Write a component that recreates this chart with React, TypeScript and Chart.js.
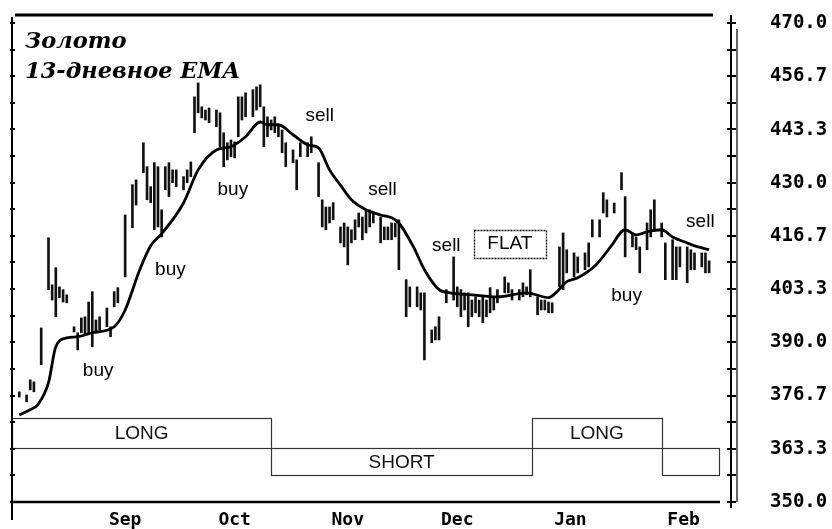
import { useEffect, useRef } from "react";
import { Chart, registerables } from "chart.js";
Chart.register(...registerables);

const TITLE_LINES = ["Золото", "13-дневное EMA"];
const MONTH_LABELS = ["Sep", "Oct", "Nov", "Dec", "Jan", "Feb"];
const MONTH_DAYS = [31, 61, 92, 122, 153, 184];
const Y_TICKS = [470.0, 456.7, 443.3, 430.0, 416.7, 403.3, 390.0, 376.7, 363.3, 350.0];

// daily bars (day number counted from Aug 1)
const BAR_DAYS = [2, 4, 5, 6, 8, 10, 11, 12, 13, 14, 15, 17, 18, 19, 20, 21, 22, 23, 24, 26, 27, 28, 29, 31, 33, 34, 36, 37, 38, 39, 40, 41, 42, 43, 44, 45, 47, 48, 49, 50, 51, 52, 53, 54, 56, 57, 58, 59, 60, 61, 62, 63, 64, 66, 67, 68, 69, 70, 71, 72, 73, 74, 75, 77, 78, 79, 81, 82, 84, 85, 86, 87, 88, 90, 91, 92, 93, 94, 95, 96, 97, 98, 99, 101, 102, 103, 104, 105, 106, 108, 109, 111, 112, 113, 115, 116, 117, 119, 121, 122, 123, 124, 125, 126, 127, 128, 129, 130, 131, 132, 133, 135, 136, 137, 139, 140, 141, 142, 144, 145, 146, 147, 148, 150, 151, 152, 154, 155, 157, 158, 159, 161, 162, 163, 165, 167, 168, 170, 171, 172, 174, 175, 176, 178, 179, 181, 182, 183, 185, 186, 187, 189, 190, 191];
const BAR_HIGH = [377.6, 376.8, 380.6, 380.1, 393.6, 416.2, 404.4, 408.7, 403.9, 403.2, 401.9, 393.9, 392.4, 396.1, 396.4, 400.1, 402.7, 395.6, 396.4, 398.6, 393.9, 402.7, 403.7, 421.9, 429.5, 430.7, 440.0, 434.0, 429.0, 435.0, 434.0, 423.2, 434.0, 435.0, 433.2, 433.2, 431.5, 433.2, 435.2, 451.5, 455.0, 449.0, 448.2, 448.7, 448.2, 447.5, 442.5, 440.0, 440.7, 440.2, 451.5, 451.5, 452.5, 453.3, 454.0, 454.5, 449.0, 446.5, 445.7, 446.5, 444.5, 443.2, 440.0, 438.2, 435.7, 440.0, 440.0, 441.5, 435.0, 425.7, 423.9, 423.9, 425.0, 418.9, 419.9, 418.9, 418.2, 420.7, 422.4, 421.4, 423.2, 423.2, 422.7, 421.4, 418.9, 418.9, 419.9, 419.9, 420.7, 405.7, 403.9, 403.9, 402.4, 402.4, 393.1, 393.9, 396.4, 403.2, 411.4, 403.9, 403.2, 402.4, 402.4, 400.6, 401.4, 400.6, 401.4, 400.6, 403.7, 401.4, 403.2, 406.4, 404.9, 403.2, 403.2, 404.9, 403.9, 408.2, 401.4, 400.6, 400.6, 400.1, 399.9, 413.9, 417.4, 413.2, 412.4, 411.4, 412.4, 414.9, 420.7, 420.7, 427.5, 425.7, 424.9, 432.5, 426.5, 417.4, 416.4, 413.9, 419.9, 423.2, 425.7, 419.9, 414.9, 415.7, 413.9, 413.9, 413.9, 413.2, 412.4, 412.4, 412.4, 410.4];
const BAR_LOW = [376.3, 375.1, 378.1, 377.6, 384.4, 403.2, 400.6, 396.4, 401.2, 400.1, 399.9, 392.6, 388.1, 392.4, 391.9, 392.4, 388.9, 392.4, 393.1, 393.9, 391.4, 398.9, 399.9, 406.4, 418.7, 424.4, 432.5, 425.7, 425.0, 418.2, 418.9, 416.4, 428.2, 426.5, 430.0, 429.0, 428.2, 430.0, 431.5, 442.5, 447.5, 446.2, 445.7, 445.0, 444.0, 439.0, 434.0, 435.7, 436.5, 436.2, 441.5, 445.7, 446.5, 446.5, 448.2, 449.0, 439.0, 441.5, 443.2, 442.5, 441.5, 437.5, 434.0, 435.0, 428.2, 436.5, 436.5, 437.5, 426.5, 418.9, 418.2, 419.9, 420.7, 414.9, 413.9, 409.4, 414.9, 415.7, 418.9, 415.7, 417.4, 418.9, 419.9, 414.9, 415.7, 415.7, 415.7, 416.4, 408.2, 396.4, 398.9, 398.9, 398.1, 385.6, 389.9, 390.6, 390.6, 399.9, 400.6, 398.9, 396.4, 398.1, 393.9, 396.4, 397.4, 396.4, 394.9, 396.4, 397.4, 398.1, 399.9, 402.4, 402.4, 400.6, 400.6, 401.4, 401.9, 401.4, 396.9, 398.1, 398.1, 397.4, 397.4, 403.9, 403.2, 407.4, 406.4, 407.4, 408.2, 408.9, 416.4, 416.4, 422.4, 421.4, 422.4, 428.2, 411.4, 413.9, 413.2, 407.4, 413.2, 416.4, 418.2, 416.4, 405.7, 405.7, 405.7, 408.9, 404.9, 408.2, 408.2, 408.9, 407.4, 407.4];

// 13-day EMA
const EMA_DAYS = [2, 5, 7, 10, 12, 15, 18, 22, 28, 31, 35, 38, 41, 47, 51, 56, 60, 64, 68, 70, 73, 77, 81, 84, 87, 90, 93, 97, 101, 104, 106, 110, 113, 117, 120, 126, 133, 141, 147, 149, 152, 155, 160, 164, 168, 171, 174, 178, 181, 185, 188, 191];
const EMA_VALUES = [371.8, 373.1, 374.3, 379.9, 388.9, 391.1, 391.4, 392.4, 393.9, 398.1, 408.2, 414.2, 417.2, 424.9, 433.2, 438.2, 439.0, 441.5, 445.2, 444.5, 444.5, 442.0, 439.5, 438.7, 433.2, 429.4, 425.7, 423.2, 421.9, 421.2, 419.9, 413.9, 408.2, 403.2, 402.4, 401.9, 401.4, 402.4, 401.2, 402.4, 405.2, 406.2, 409.4, 413.9, 418.2, 416.9, 417.7, 418.2, 416.4, 414.9, 413.9, 413.2];

// position periods
const POS_START = [0, 71, 142.5, 178];
const POS_END = [71, 142.5, 178, 193.6];
const POS_SIDE = ["LONG", "SHORT", "LONG", "SHORT"];
const POS_TEXT = ["LONG", "SHORT", "LONG", ""];
const POS_MID = 363.5;
const POS_LONG_TOP = 371;
const POS_SHORT_BOTTOM = 356.8;

// signal annotations
const SIGNAL_TEXT = ["buy", "buy", "buy", "sell", "sell", "sell", "FLAT", "buy", "sell"];
const SIGNAL_DAY = [23.6, 43.4, 60.5, 84.3, 101.5, 119.0, 136.4, 168.4, 188.6];
const SIGNAL_VALUE = [382.9, 408.2, 428.2, 446.7, 428.2, 414.2, 414.6, 401.7, 420.2];

const MONO = '"DejaVu Sans Mono", monospace';

const decor = {
  id: "decor",
  beforeDatasetsDraw(chart: any) {
    const { ctx, scales } = chart;
    const x = scales.x, y = scales.y;
    ctx.save();
    ctx.strokeStyle = "#333";
    ctx.lineWidth = 1.2;
    const yMid = y.getPixelForValue(POS_MID);
    const yTop = y.getPixelForValue(POS_LONG_TOP);
    const yBot = y.getPixelForValue(POS_SHORT_BOTTOM);
    ctx.font = '19px "Liberation Sans", Arial, sans-serif';
    ctx.fillStyle = "#111";
    ctx.textAlign = "center";
    ctx.textBaseline = "middle";
    for (let i = 0; i < POS_START.length; i++) {
      const x0 = x.getPixelForValue(POS_START[i]);
      const x1 = x.getPixelForValue(POS_END[i]);
      const a = POS_SIDE[i] === "LONG" ? yTop : yMid;
      const b = POS_SIDE[i] === "LONG" ? yMid : yBot;
      ctx.strokeRect(Math.round(x0) + 0.5, Math.round(a) + 0.5, Math.round(x1 - x0), Math.round(b - a));
      if (POS_TEXT[i]) ctx.fillText(POS_TEXT[i], (x0 + x1) / 2, (a + b) / 2 + 1);
    }
    ctx.beginPath();
    ctx.moveTo(x.getPixelForValue(POS_START[0]), Math.round(yMid) + 0.5);
    ctx.lineTo(x.getPixelForValue(POS_END[POS_END.length - 1]), Math.round(yMid) + 0.5);
    ctx.stroke();
    ctx.restore();
  },
  afterDatasetsDraw(chart: any) {
    const { ctx, chartArea, scales } = chart;
    const { left, right, top, bottom } = chartArea;
    const x = scales.x, y = scales.y;
    ctx.save();
    ctx.strokeStyle = "#000";
    // top border
    ctx.lineWidth = 3;
    ctx.beginPath(); ctx.moveTo(left + 3, top); ctx.lineTo(right - 18, top); ctx.stroke();
    // bottom border
    ctx.lineWidth = 2.5;
    ctx.beginPath(); ctx.moveTo(left - 2, bottom); ctx.lineTo(right - 11, bottom); ctx.stroke();
    // left axis
    ctx.lineWidth = 2;
    ctx.beginPath(); ctx.moveTo(left, top + 2); ctx.lineTo(left, bottom + 18); ctx.stroke();
    // right axis double line
    ctx.beginPath(); ctx.moveTo(right, top); ctx.lineTo(right, bottom + 6); ctx.stroke();
    ctx.lineWidth = 1.2;
    ctx.beginPath(); ctx.moveTo(right + 6, top + 14); ctx.lineTo(right + 6, bottom); ctx.stroke();
    // tick marks every half label step
    const hi = Y_TICKS[0], lo = Y_TICKS[Y_TICKS.length - 1];
    const steps = (Y_TICKS.length - 1) * 2;
    ctx.lineWidth = 2;
    for (let k = 0; k <= steps; k++) {
      const py = Math.round(y.getPixelForValue(hi - (k * (hi - lo)) / steps));
      ctx.beginPath(); ctx.moveTo(right - 4, py); ctx.lineTo(right + 5, py); ctx.stroke();
      ctx.beginPath(); ctx.moveTo(left - 2, py); ctx.lineTo(left + 3, py); ctx.stroke();
    }
    // title
    ctx.fillStyle = "#000";
    ctx.textAlign = "left";
    ctx.textBaseline = "alphabetic";
    ctx.font = 'italic bold 22.5px "DejaVu Serif", serif';
    ctx.fillText(TITLE_LINES[0], 25, 48);
    ctx.fillText(TITLE_LINES[1], 25, 78);
    // signals
    ctx.font = '19px "Liberation Sans", Arial, sans-serif';
    ctx.textAlign = "center";
    ctx.textBaseline = "middle";
    for (let i = 0; i < SIGNAL_TEXT.length; i++) {
      const px = x.getPixelForValue(SIGNAL_DAY[i]);
      const py = y.getPixelForValue(SIGNAL_VALUE[i]);
      if (SIGNAL_TEXT[i] === "FLAT") {
        ctx.fillStyle = "#fff";
        ctx.fillRect(px - 36, py - 14, 72, 28);
        ctx.fillStyle = "#000";
        ctx.lineWidth = 1.3;
        ctx.setLineDash([2, 1]);
        ctx.strokeRect(Math.round(px - 36) + 0.5, Math.round(py - 14) + 0.5, 72, 28);
        ctx.setLineDash([]);
      }
      ctx.fillStyle = "#000";
      ctx.fillText(SIGNAL_TEXT[i], px, py);
    }
    ctx.restore();
  },
};

export default function App() {
  const ref = useRef<HTMLCanvasElement>(null);
  useEffect(() => {
    document.body.style.margin = "0";
    const chart = new Chart(ref.current as HTMLCanvasElement, {
      type: "bar",
      data: {
        datasets: [
          {
            type: "line",
            label: "13-дневное EMA",
            data: EMA_DAYS.map((d, i) => ({ x: d, y: EMA_VALUES[i] })),
            borderColor: "#000",
            borderWidth: 2.8,
            pointRadius: 0,
            cubicInterpolationMode: "monotone",
            order: 0,
          } as any,
          {
            type: "bar",
            label: "Золото",
            data: BAR_DAYS.map((d, i) => ({ x: d, y: [BAR_LOW[i], BAR_HIGH[i]] })),
            backgroundColor: "#111",
            barThickness: 2,
            order: 1,
          } as any,
        ],
      },
      options: {
        animation: false,
        responsive: false,
        layout: { padding: { left: 12, top: 15, right: 0, bottom: 0 } },
        plugins: { legend: { display: false }, tooltip: { enabled: false } },
        scales: {
          x: {
            type: "linear",
            min: 0,
            max: 197,
            offset: false,
            grid: { display: false, drawTicks: true, tickLength: 6 },
            border: { display: false },
            afterBuildTicks: (s: any) => {
              s.ticks = MONTH_DAYS.map((v) => ({ value: v }));
            },
            afterFit: (s: any) => {
              s.height = 27;
            },
            ticks: {
              autoSkip: false,
              maxRotation: 0,
              padding: 2,
              color: "#000",
              font: { family: MONO, weight: "bold", size: 18 },
              callback: (v: any) => {
                const i = MONTH_DAYS.indexOf(Number(v));
                return i >= 0 ? MONTH_LABELS[i] : "";
              },
            },
          },
          y: {
            type: "linear",
            position: "right",
            min: 350,
            max: 472,
            grid: { display: false, drawTicks: true, tickLength: 37 },
            border: { display: false },
            afterBuildTicks: (s: any) => {
              s.ticks = Y_TICKS.map((v) => ({ value: v }));
            },
            afterFit: (s: any) => {
              s.width = 101;
            },
            ticks: {
              padding: 2,
              color: "#000",
              font: { family: MONO, weight: "bold", size: 19 },
              callback: (v: any) => Number(v).toFixed(1),
            },
          },
        } as any,
      },
      plugins: [decor],
    });
    return () => chart.destroy();
  }, []);
  return (
    <div style={{ width: 832, height: 529 }}>
      <canvas ref={ref} width={832} height={529} style={{ display: "block" }} />
    </div>
  );
}
